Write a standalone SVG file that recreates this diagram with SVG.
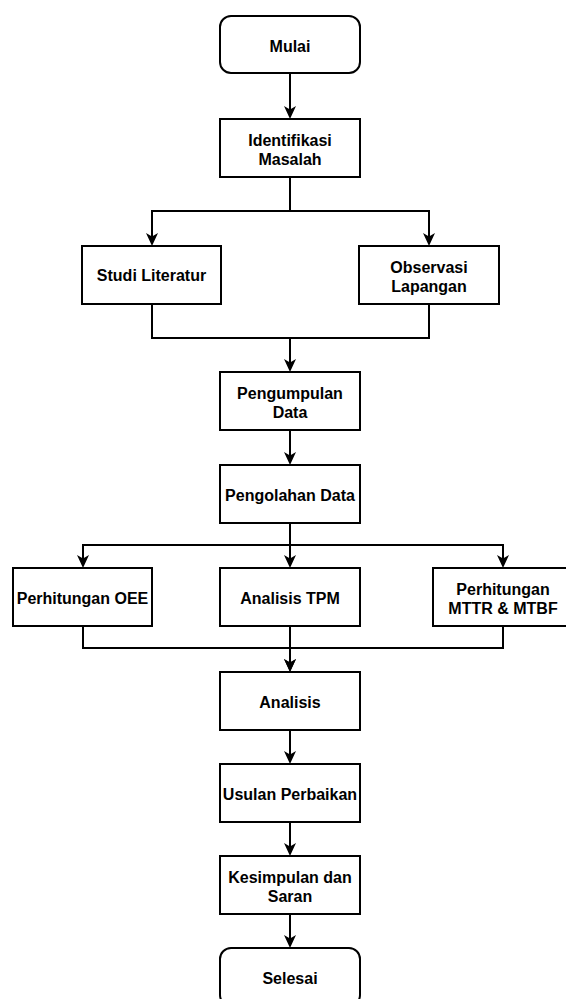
<svg xmlns="http://www.w3.org/2000/svg" width="566" height="999" viewBox="0 0 566 999">
<style>
.box{fill:#ffffff;stroke:#000000;stroke-width:2}
.t{font-family:"Liberation Sans",Arial,sans-serif;font-size:16px;font-weight:bold;fill:#000000;text-anchor:middle}
.c{fill:none;stroke:#000000;stroke-width:2}
</style>
<defs>
<marker id="arr" markerUnits="userSpaceOnUse" viewBox="0 0 13 12" markerWidth="13" markerHeight="12" refX="9" refY="6" orient="auto">
<path d="M0,0 L13,6 L0,12 L3.5,6 Z" fill="#000000"/>
</marker>
</defs>
<rect width="566" height="999" fill="#ffffff"/>
<g id="connectors">
<path class="c" d="M290,73 V115" marker-end="url(#arr)"/>
<path class="c" d="M290,177 V211 H152 V242" marker-end="url(#arr)"/>
<path class="c" d="M290,211 H429 V242" marker-end="url(#arr)"/>
<path class="c" d="M152,304 V338 H290 V368" marker-end="url(#arr)"/>
<path class="c" d="M429,304 V338 H290"/>
<path class="c" d="M290,430 V461" marker-end="url(#arr)"/>
<path class="c" d="M290,523 V545 H83 V564" marker-end="url(#arr)"/>
<path class="c" d="M290,545 V564" marker-end="url(#arr)"/>
<path class="c" d="M290,545 H503 V564" marker-end="url(#arr)"/>
<path class="c" d="M83,626 V648 H290 V668" marker-end="url(#arr)"/>
<path class="c" d="M290,626 V668" marker-end="url(#arr)"/>
<path class="c" d="M503,626 V648 H290"/>
<path class="c" d="M290,730 V760" marker-end="url(#arr)"/>
<path class="c" d="M290,822 V852" marker-end="url(#arr)"/>
<path class="c" d="M290,914 V944" marker-end="url(#arr)"/>
</g>
<g id="mulai">
<rect class="box" x="220" y="16" width="140" height="57" rx="11" ry="11"/>
<text class="t" x="290" y="52">Mulai</text>
</g>
<g id="identifikasi">
<rect class="box" x="220" y="119" width="140" height="58"/>
<text class="t" x="290" y="145.5">Identifikasi</text>
<text class="t" x="290" y="164.5">Masalah</text>
</g>
<g id="studi">
<rect class="box" x="82" y="246" width="139" height="58"/>
<text class="t" x="151.5" y="281">Studi Literatur</text>
</g>
<g id="observasi">
<rect class="box" x="359" y="246" width="140" height="58"/>
<text class="t" x="429" y="272.5">Observasi</text>
<text class="t" x="429" y="291.5">Lapangan</text>
</g>
<g id="pengumpulan">
<rect class="box" x="220" y="372" width="140" height="58"/>
<text class="t" x="290" y="398.5">Pengumpulan</text>
<text class="t" x="290" y="417.5">Data</text>
</g>
<g id="pengolahan">
<rect class="box" x="220" y="465" width="140" height="58"/>
<text class="t" x="290" y="500.5">Pengolahan Data</text>
</g>
<g id="oee">
<rect class="box" x="13" y="568" width="139" height="58"/>
<text class="t" x="82.5" y="603.5">Perhitungan OEE</text>
</g>
<g id="tpm">
<rect class="box" x="220" y="568" width="140" height="58"/>
<text class="t" x="290" y="603.5">Analisis TPM</text>
</g>
<g id="mttr">
<rect class="box" x="433" y="568" width="140" height="58"/>
<text class="t" x="503" y="594.5">Perhitungan</text>
<text class="t" x="503" y="613.5">MTTR &amp; MTBF</text>
</g>
<g id="analisis">
<rect class="box" x="220" y="672" width="140" height="58"/>
<text class="t" x="290" y="707.5">Analisis</text>
</g>
<g id="usulan">
<rect class="box" x="220" y="764" width="140" height="58"/>
<text class="t" x="290" y="799.5">Usulan Perbaikan</text>
</g>
<g id="kesimpulan">
<rect class="box" x="220" y="856" width="140" height="58"/>
<text class="t" x="290" y="882.5">Kesimpulan dan</text>
<text class="t" x="290" y="901.5">Saran</text>
</g>
<g id="selesai">
<rect class="box" x="220" y="948" width="140" height="58" rx="11" ry="11"/>
<text class="t" x="290" y="984">Selesai</text>
</g>
</svg>
